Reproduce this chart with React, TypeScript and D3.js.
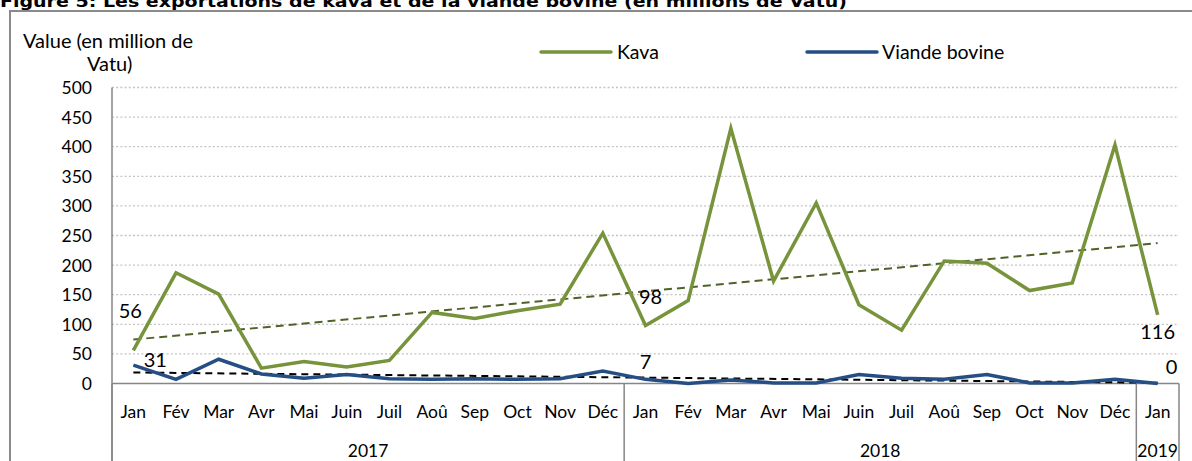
import React from "react";
import * as d3 from "d3";

const months = ["Jan","Fév","Mar","Avr","Mai","Juin","Juil","Aoû","Sep","Oct","Nov","Déc","Jan","Fév","Mar","Avr","Mai","Juin","Juil","Aoû","Sep","Oct","Nov","Déc","Jan"];
const years = [
  { label: "2017", start: 0, end: 12 },
  { label: "2018", start: 12, end: 24 },
  { label: "2019", start: 24, end: 25 },
];
const kava = [56,187,151,26,37,28,39,120,110,123,134,254,98,140,431,173,305,133,90,207,203,157,170,403,116];
const beef = [31,7,41,16,9,15,8,7,8,7,8,21,7,0,6,1,1,15,9,7,15,1,1,7,0];
const yTicks = [0,50,100,150,200,250,300,350,400,450,500];
const labelSpecs = [
  { series: "kava", i: 0, dx: -3, dy: -32 },
  { series: "beef", i: 0, dx: 22, dy: 2 },
  { series: "kava", i: 12, dx: 5, dy: -21 },
  { series: "beef", i: 12, dx: 0, dy: -10 },
  { series: "kava", i: 24, dx: 0, dy: 24 },
  { series: "beef", i: 24, dx: 14, dy: -10 },
];

const W = 1192, H = 461;
const left = 112, right = 1179, top = 87.5, bottom = 383.5;
const FONT = "Lato, 'Noto Sans', sans-serif";

function trend(vals: number[]) {
  const n = vals.length;
  const xm = d3.mean(vals.map((_, i) => i))!;
  const ym = d3.mean(vals)!;
  let sxy = 0, sxx = 0;
  vals.forEach((v, i) => { sxy += (i - xm) * (v - ym); sxx += (i - xm) * (i - xm); });
  const b = sxy / sxx;
  const a = ym - b * xm;
  return [0, n - 1].map(i => ({ i, v: a + b * i }));
}

export default function App() {
  const xb = d3.scaleBand<number>().domain(d3.range(months.length)).range([left, right]).padding(0);
  const bw = xb.bandwidth();
  const x = (i: number) => xb(i)! + bw / 2;
  const y = d3.scaleLinear().domain([0, 500]).range([bottom, top]);

  const line = d3.line<number>().x((_, i) => x(i)).y(d => y(d));
  const tline = d3.line<{ i: number; v: number }>().x(d => x(d.i)).y(d => y(d.v));
  const kt = trend(kava);
  const bt = trend(beef);

  const series: Record<string, number[]> = { kava, beef };

  return (
    <svg width={W} height={H} style={{ position: "absolute", left: 0, top: 0, background: "#fff" }} fontFamily={FONT}>
      <rect x={0} y={0} width={W} height={H} fill="#fff" />
      {/* title */}
      <text x={0} y={6.5} fontFamily="'DejaVu Sans', Verdana, sans-serif" fontWeight="bold" fontSize={15} textLength={847} lengthAdjust="spacingAndGlyphs" fill="#000">
        Figure 5: Les exportations de kava et de la viande bovine (en millions de Vatu)
      </text>
      {/* frame */}
      <path d={`M10,${H + 2} L10,11 L${W + 5},11`} fill="none" stroke="#8a8a8a" strokeWidth={2} />

      {/* y-axis title */}
      <text x={23} y={48} fontSize={20} fill="#000">Value (en million de</text>
      <text x={87} y={71} fontSize={20} fill="#000">Vatu)</text>

      {/* gridlines */}
      {yTicks.filter(t => t > 0).map(t => (
        <line key={t} x1={left} x2={right} y1={y(t)} y2={y(t)} stroke="#c4c4c4" strokeWidth={1.3} strokeDasharray="2,2.2" />
      ))}
      {/* y tick labels */}
      {yTicks.map(t => (
        <text key={t} x={92} y={y(t) + 6.5} textAnchor="end" fontSize={17.5} fill="#000">{t}</text>
      ))}

      {/* axes */}
      <line x1={left} x2={left} y1={top} y2={H} stroke="#868686" strokeWidth={1.5} />
      <line x1={left} x2={right} y1={bottom} y2={bottom} stroke="#868686" strokeWidth={1.5} />
      {years.map(yr => (
        <line key={yr.label} x1={xb(yr.start)!} x2={xb(yr.start)!} y1={bottom} y2={H} stroke="#868686" strokeWidth={1.5} />
      ))}
      <line x1={right} x2={right} y1={bottom} y2={H} stroke="#868686" strokeWidth={1.5} />

      {/* month labels */}
      {months.map((m, i) => (
        <text key={i} x={x(i)} y={418} textAnchor="middle" fontSize={17.5} fill="#000">{m}</text>
      ))}
      {/* year labels */}
      {years.map(yr => (
        <text key={yr.label} x={(xb(yr.start)! + (yr.end < months.length ? xb(yr.end)! : right)) / 2} y={457} textAnchor="middle" fontSize={17.5} fill="#000">{yr.label}</text>
      ))}

      {/* trend lines */}
      <path d={tline(kt)!} fill="none" stroke="#4f6228" strokeWidth={2} strokeDasharray="8,5" />
      <path d={tline(bt)!} fill="none" stroke="#000" strokeWidth={2} strokeDasharray="7,5" />

      {/* data lines */}
      <path d={line(beef)!} fill="none" stroke="#254f84" strokeWidth={3.5} strokeLinejoin="miter" />
      <path d={line(kava)!} fill="none" stroke="#77933c" strokeWidth={3.5} strokeLinejoin="miter" />

      {/* data labels */}
      {labelSpecs.map((l, k) => {
        const v = series[l.series][l.i];
        return (
          <text key={k} x={x(l.i) + l.dx} y={y(v) + l.dy} textAnchor="middle" fontSize={20} fill="#000">{v}</text>
        );
      })}

      {/* legend */}
      <line x1={541} x2={611} y1={52} y2={52} stroke="#77933c" strokeWidth={3.5} strokeLinecap="round" />
      <text x={617} y={59} fontSize={19.5} fill="#000">Kava</text>
      <line x1={807} x2={877} y1={52} y2={52} stroke="#254f84" strokeWidth={3.5} strokeLinecap="round" />
      <text x={882} y={59} fontSize={19.5} fill="#000">Viande bovine</text>
    </svg>
  );
}
